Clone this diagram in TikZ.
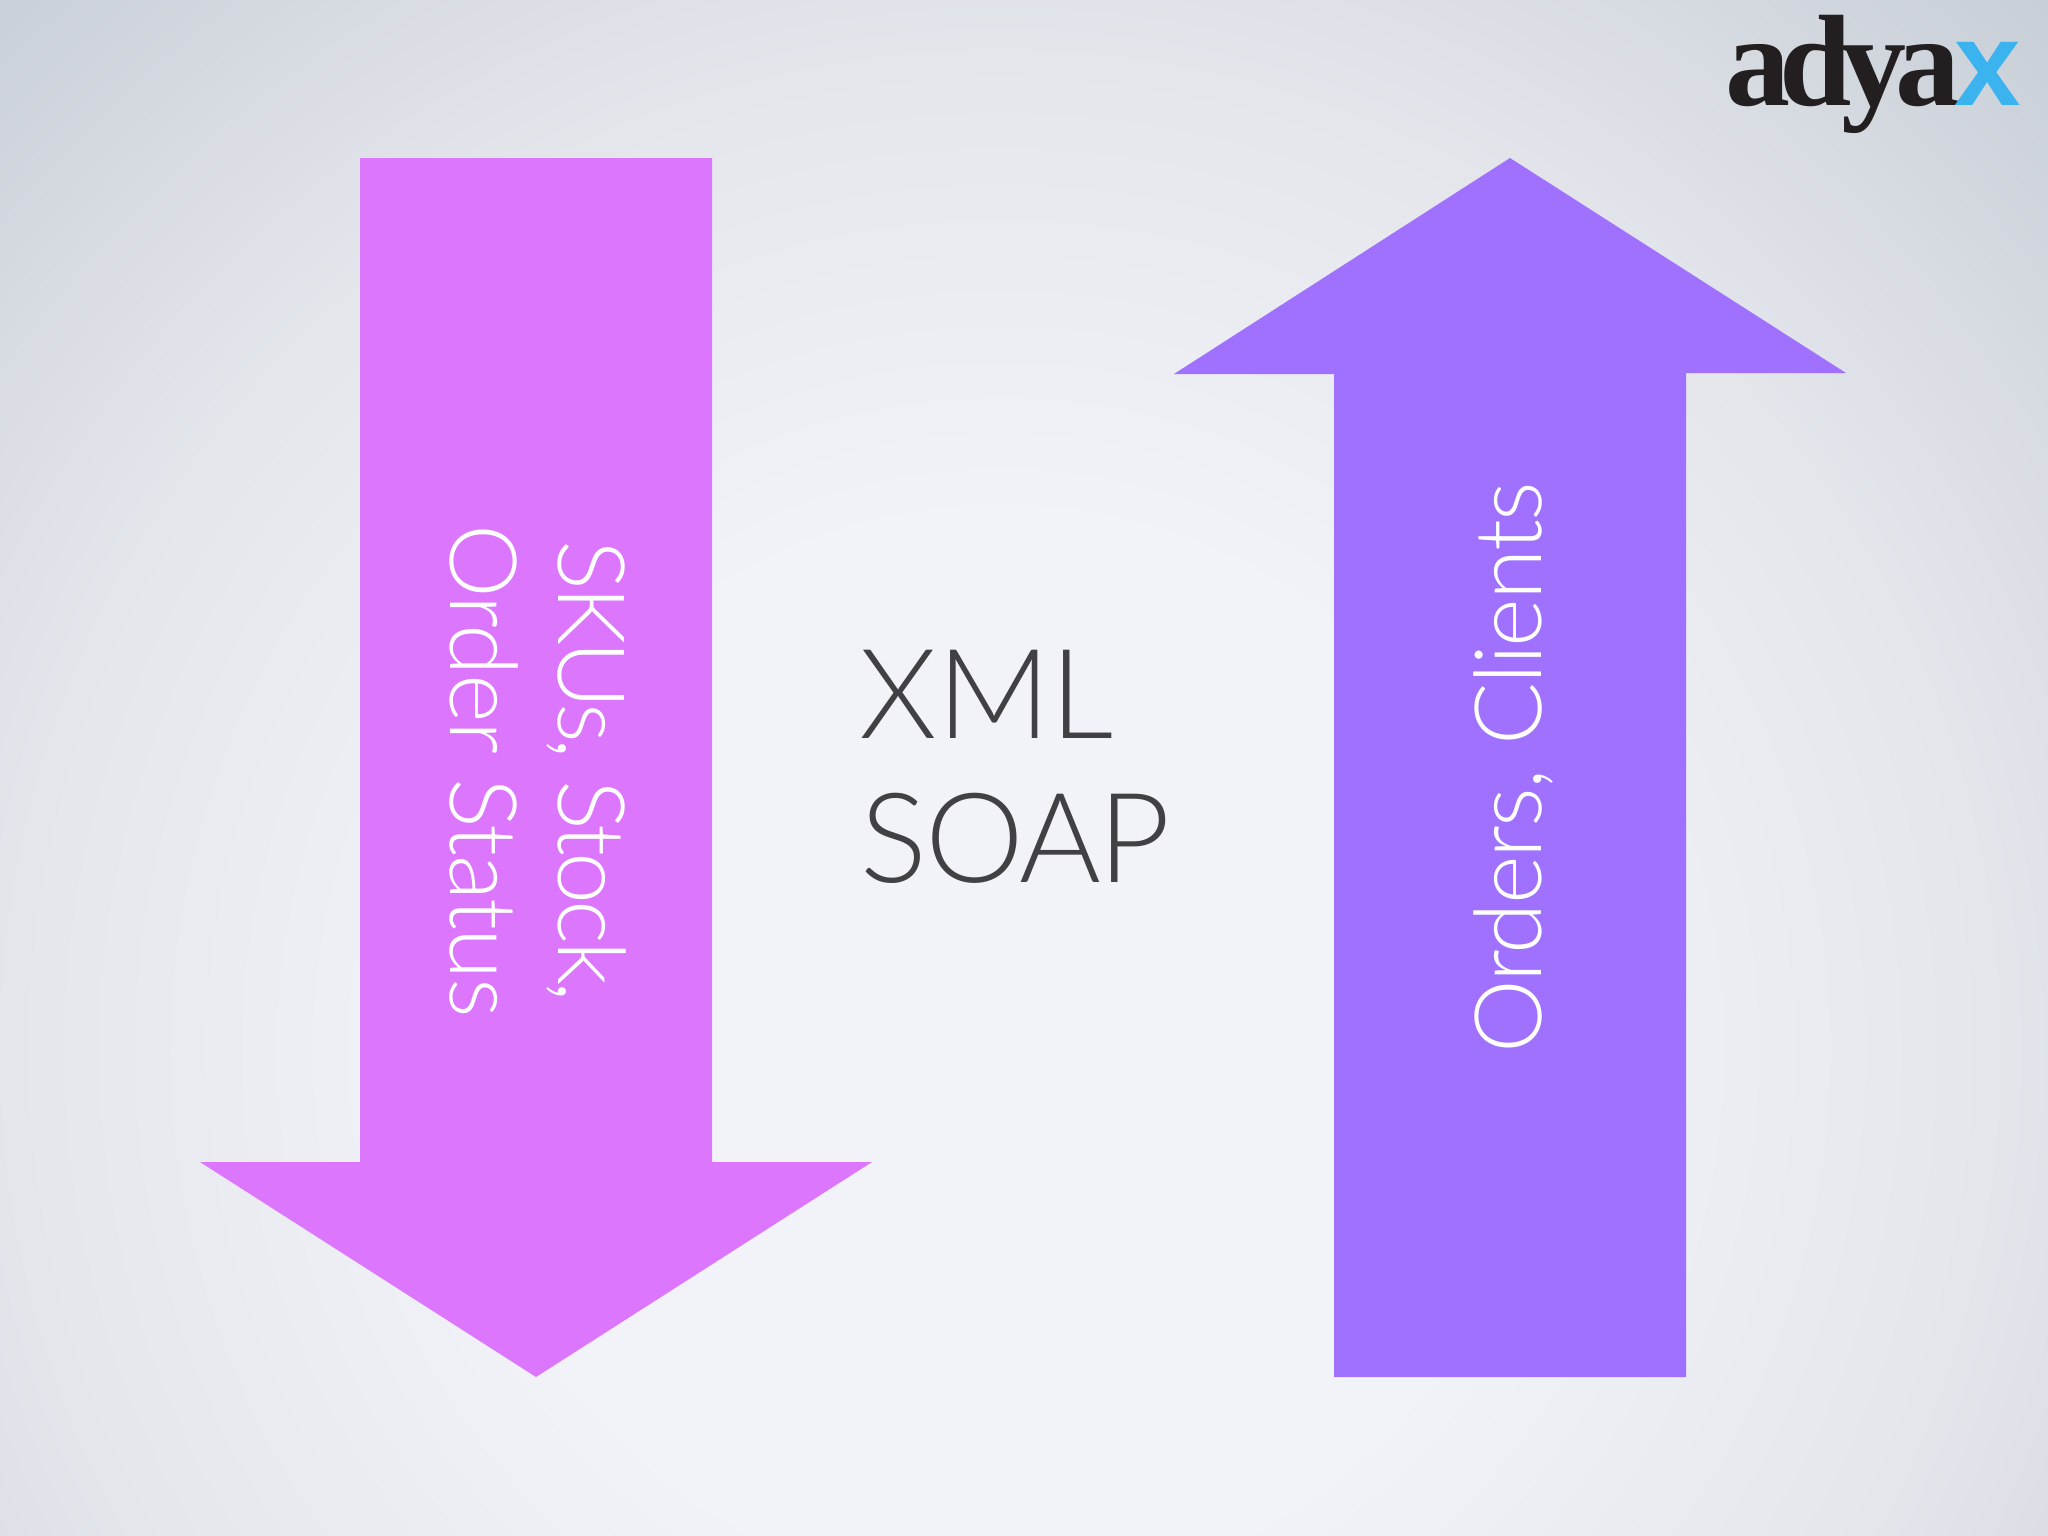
\documentclass[tikz,border=0pt]{standalone}
\usepackage{fontspec}
\setmainfont{Lato}[UprightFont={* Light}]
\newfontfamily\logoFont{Liberation Serif}[UprightFont={* Bold},LetterSpace=-8.5]
\newfontfamily\logoFontX{Liberation Sans}[UprightFont={* Bold}]
\usetikzlibrary{positioning}

\definecolor{bgCentre}{HTML}{F2F3F8}
\definecolor{bgMid}{HTML}{E4E6EC}
\definecolor{bgEdge}{HTML}{C6CDD5}
\definecolor{arrowPink}{HTML}{DB76FD}
\definecolor{arrowViolet}{HTML}{A071FE}
\definecolor{soapGrey}{HTML}{414145}
\definecolor{logoBlack}{HTML}{231F20}
\definecolor{logoBlue}{HTML}{3BB3EE}

\pgfdeclareradialshading{slideBg}{\pgfpoint{0bp}{0bp}}{
    color(0bp)=(bgCentre);
    color(8bp)=(bgCentre);
    color(15bp)=(bgMid);
    color(23bp)=(bgEdge);
    color(50bp)=(bgEdge)
}

\def\shaftWidth{352}
\def\shaftLength{1004}
\def\headWing{160}

\tikzset{
    bigtext/.style = {font = \fontsize{26.5pt}{30pt}\selectfont, text = white, inner sep = 0pt},
    soaptext/.style = {font = \fontsize{35.5pt}{40pt}\selectfont, text = soapGrey, inner sep = 0pt},
}

\begin{document}
\begin{tikzpicture}[x = 0.01cm, y = -0.01cm]
            \useasboundingbox (0,0) rectangle (2048,1536);
            \begin{scope}
                \clip (0,0) rectangle (2048,1536);
                \shade [shading = slideBg] (-650,-600) rectangle (2650,2700);
            \end{scope}
            %% arrows
            \fill [arrowPink]
            (360,158) coordinate (downstart)
            -- ++(\shaftWidth,0)
            -- ++(0,\shaftLength)
            -- ++(\headWing,0)
            -- (536,1377) coordinate (downtip)
            -- (200,1162)
            -- ++(\headWing,0)
            -- cycle
            ;
            \fill [arrowViolet]
            (1334,1377) coordinate (upstart)
            -- ++(\shaftWidth,0)
            -- ++(0,-\shaftLength)
            -- ++(\headWing,0)
            -- (1510,158) coordinate (uptip)
            -- (1174,374)
            -- ++(\headWing,0)
            -- cycle
            ;
            %% labels
            \node [bigtext, rotate = -90] (orderstatus) at (484,771) {\addfontfeature{LetterSpace=-1.6}Order Status};
            \node [bigtext, rotate = -90] (skustock) at (586,771) {\addfontfeature{LetterSpace=-4.1}SKUs, Stock,};
            \node [bigtext, rotate = 90] (ordersclients) at (1513,768) {\addfontfeature{LetterSpace=-2}Orders, Clients};
            \node [soaptext, anchor = west] (xml) at (859,694) {XML};
            \node [soaptext, anchor = west] (soap) at (860,838) {\addfontfeature{LetterSpace=-2}SOAP};
            %% logo
            \node [inner sep = 0pt, anchor = base west, text = logoBlack, font = \logoFont\fontsize{37pt}{40pt}\selectfont]
            (logotext) at (1725,105) {adya};
            \node [inner sep = 0pt, anchor = base west, text = logoBlue, font = \logoFontX\fontsize{34pt}{38pt}\selectfont]
            (logox) at (1954,105) {x};
        \end{tikzpicture}
\end{document}
